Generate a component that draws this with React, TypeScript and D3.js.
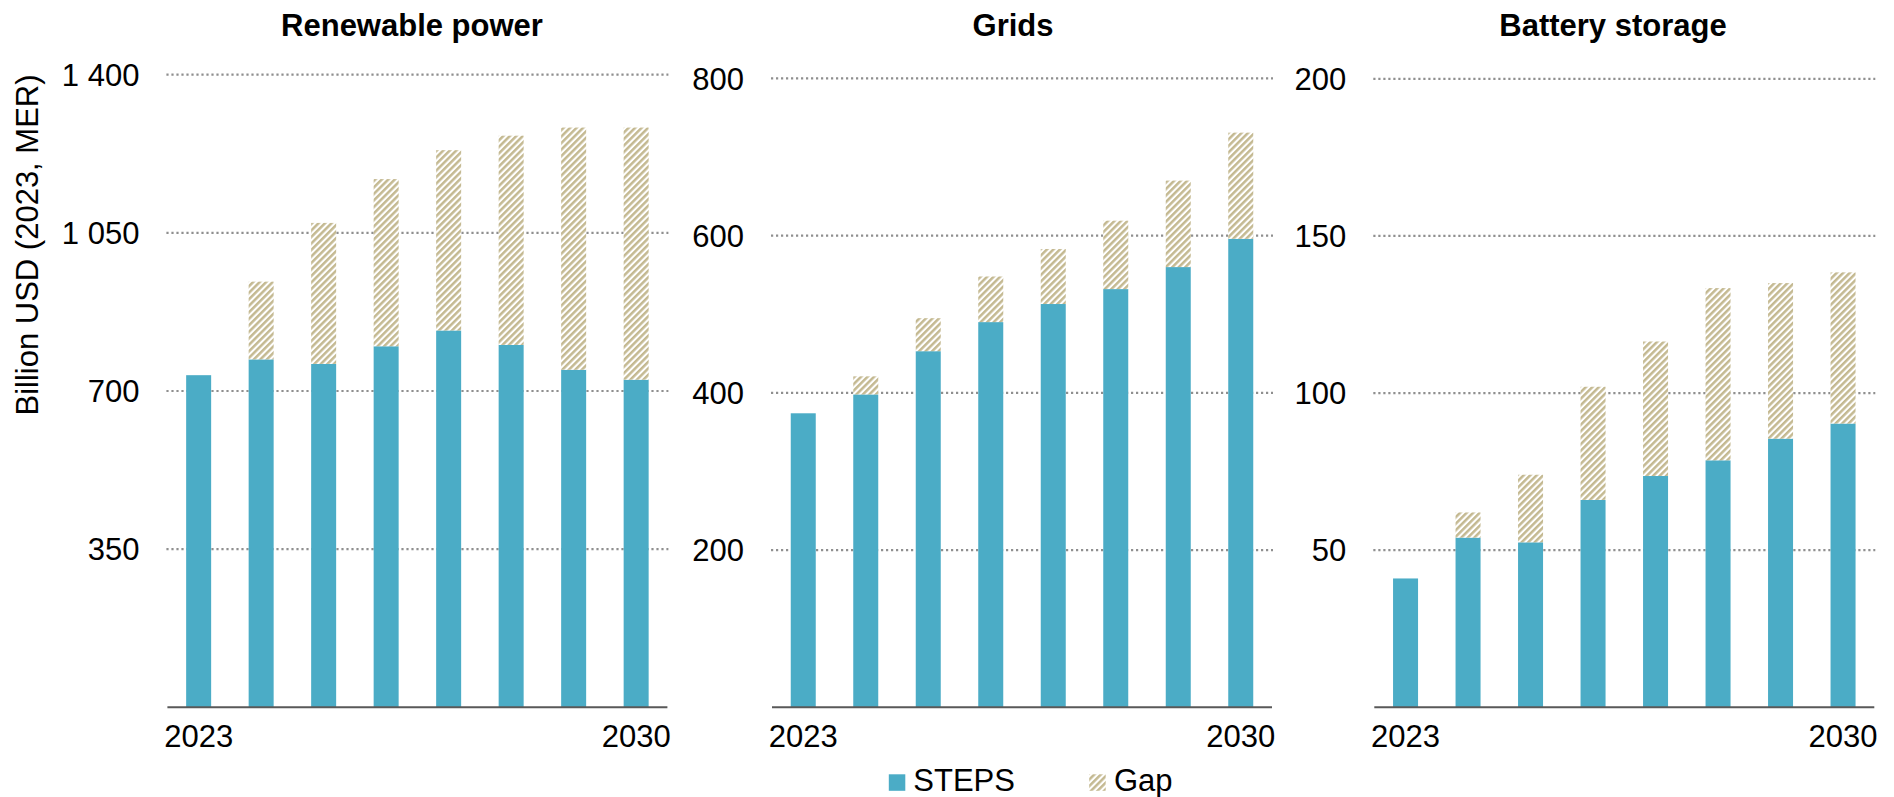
import * as d3 from "d3";

// years on the x axis, only the ends carry labels
const years = ["2023", "2024", "2025", "2026", "2027", "2028", "2029", "2030"];
const yearLabels = ["2023", "2030"];

// Renewable power
const renewSteps = [735, 770, 760, 799, 834, 802, 747, 725];
const renewGap = [0, 172, 312, 370, 399, 463, 536, 558];
const renewTicks = [350, 700, 1050, 1400];

// Grids
const gridSteps = [374, 398, 453, 490, 513, 532, 560, 596];
const gridGap = [0, 23, 42, 58, 70, 87, 110, 135];
const gridTicks = [200, 400, 600, 800];

// Battery storage
const battSteps = [41, 54, 52.5, 66, 73.6, 78.6, 85.5, 90.3];
const battGap = [0, 8, 21.5, 36, 42.8, 54.8, 49.5, 48.1];
const battTicks = [50, 100, 150, 200];

const titles = ["Renewable power", "Grids", "Battery storage"];
const legendKeys = ["STEPS", "Gap"];

const W = 1894;
const H = 797;
const FONT = "Arial, 'Liberation Sans', sans-serif";
const TEAL = "#4BACC6";
const TAN = "#C4B991";
const BASE = 707.3;

const fmt = d3.formatLocale({ decimal: ".", thousands: " ", grouping: [3], currency: ["", ""] }).format(",");

const panels = [
  { title: titles[0], steps: renewSteps, gap: renewGap, ticks: renewTicks, x0: 167.4, top: 74.7, titleX: 412 },
  { title: titles[1], steps: gridSteps, gap: gridGap, ticks: gridTicks, x0: 772, top: 78.4, titleX: 1013 },
  { title: titles[2], steps: battSteps, gap: battGap, ticks: battTicks, x0: 1374.3, top: 78.8, titleX: 1613 },
];

function Panel({ p }: { p: any }) {
  const x = d3.scaleBand<string>().domain(years).range([p.x0, p.x0 + 500]).paddingInner(0.6).paddingOuter(0.3);
  const ymax = p.ticks[p.ticks.length - 1];
  const y = d3.scaleLinear().domain([0, ymax]).range([BASE, p.top]);

  return (
    <g>
      <text x={p.titleX} y={36} textAnchor="middle" fontSize={31} fontWeight="bold" fontFamily={FONT}>
        {p.title}
      </text>
      {p.ticks.map((t: number) => (
        <g key={t}>
          <line x1={p.x0 - 1} x2={p.x0 + 501} y1={y(t)} y2={y(t)} stroke="#8F8F8F" strokeWidth={2.2} strokeDasharray="2.2 2.8" />
          <text x={p.x0 - 28} y={y(t)} dy="0.36em" textAnchor="end" fontSize={31} fontFamily={FONT}>
            {fmt(t)}
          </text>
        </g>
      ))}
      {years.map((yr, i) => {
        const s = p.steps[i];
        const g = p.gap[i];
        return (
          <g key={yr}>
            <rect x={x(yr)} width={x.bandwidth()} y={y(s)} height={y(0) - y(s)} fill={TEAL} />
            {g > 0 && (
              <rect x={x(yr)} width={x.bandwidth()} y={y(s + g)} height={y(s) - y(s + g)} fill="url(#hatch)" />
            )}
          </g>
        );
      })}
      <line x1={p.x0} x2={p.x0 + 500} y1={BASE} y2={BASE} stroke="#595959" strokeWidth={2} />
      {yearLabels.map((yr) => (
        <text key={yr} x={(x(yr) as number) + x.bandwidth() / 2} y={746.7} textAnchor="middle" fontSize={31} fontFamily={FONT}>
          {yr}
        </text>
      ))}
    </g>
  );
}

export default function App() {
  return (
    <svg width={W} height={H} style={{ position: "absolute", left: 0, top: 0, background: "#fff" }}>
      <defs>
        <pattern id="hatch" width={4.6} height={4.6} patternUnits="userSpaceOnUse" patternTransform="rotate(45)">
          <rect width={4.6} height={4.6} fill="#fff" />
          <rect width={2.5} height={4.6} fill={TAN} />
        </pattern>
      </defs>
      <rect width={W} height={H} fill="#fff" />
      <text
        transform="translate(38,245) rotate(-90)"
        textAnchor="middle"
        fontSize={31}
        fontFamily={FONT}
      >
        Billion USD (2023, MER)
      </text>
      {panels.map((p) => (
        <Panel key={p.title} p={p} />
      ))}
      {/* legend */}
      <rect x={888.8} y={774.3} width={16.5} height={16.5} fill={TEAL} />
      <text x={913.3} y={790.7} fontSize={31} fontFamily={FONT}>{legendKeys[0]}</text>
      <rect x={1089.2} y={774.3} width={16.5} height={16.5} fill="url(#hatch)" />
      <text x={1114} y={790.7} fontSize={31} fontFamily={FONT}>{legendKeys[1]}</text>
    </svg>
  );
}
